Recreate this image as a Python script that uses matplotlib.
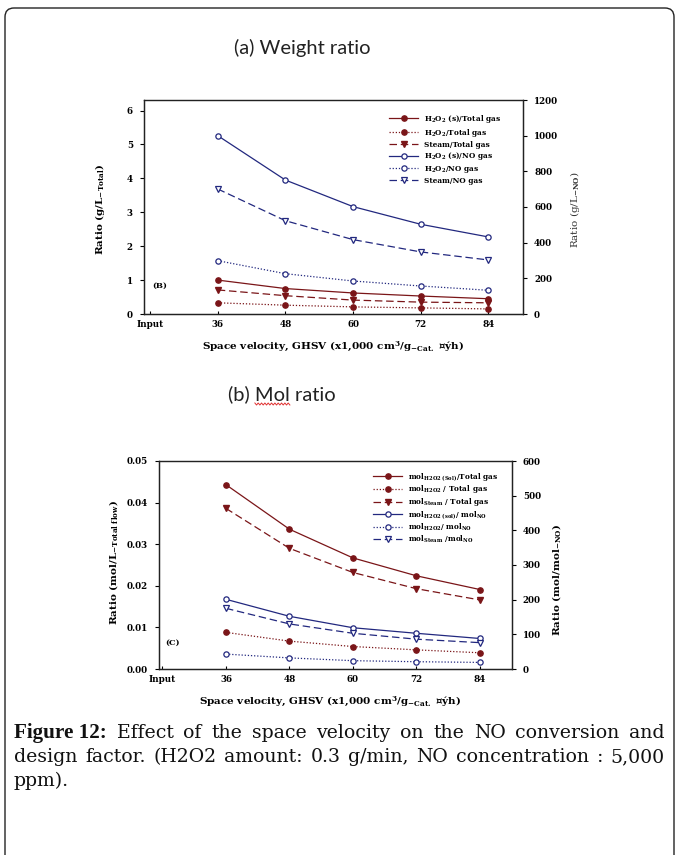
import matplotlib
matplotlib.use("Agg")
import matplotlib.pyplot as plt
from matplotlib.patches import FancyBboxPatch
from matplotlib.lines import Line2D
from matplotlib.transforms import IdentityTransform
import numpy as np

# ---------------- data ----------------
categories = ["Input", "36", "48", "60", "72", "84"]
sv_pos = [1, 2, 3, 4, 5]          # positions of the 36..84 categories

# (a) weight ratio, left axis (g/L_Total)
w_h2o2s_total = [1.00, 0.75, 0.62, 0.53, 0.45]
w_h2o2_total = [0.33, 0.26, 0.21, 0.18, 0.15]
w_steam_total = [0.71, 0.54, 0.41, 0.35, 0.33]
# right axis (g/L_NO)
w_h2o2s_no = [1000, 751, 602, 503, 432]
w_h2o2_no = [299, 226, 185, 157, 133]
w_steam_no = [701, 523, 417, 348, 303]

# (b) mol ratio, left axis (mol/L_Total flow)
m_h2o2s_total = [0.0443, 0.0336, 0.0267, 0.0224, 0.0191]
m_h2o2_total = [0.0088, 0.0067, 0.0054, 0.0046, 0.0039]
m_steam_total = [0.0386, 0.0290, 0.0232, 0.0193, 0.0166]
# right axis (mol/mol_NO)
m_h2o2s_no = [201, 152, 119, 103, 88]
m_h2o2_no = [43, 32, 24, 21, 19]
m_steam_no = [175, 130, 103, 86, 76]

labels_a = [r"H$_2$O$_2$ (s)/Total gas", r"H$_2$O$_2$/Total gas", "Steam/Total gas",
            r"H$_2$O$_2$ (s)/NO gas", r"H$_2$O$_2$/NO gas", "Steam/NO gas"]
labels_b = [r"mol$_{H2O2\ (Sol)}$/Total gas", r"mol$_{H2O2}$ / Total gas", r"mol$_{Steam}$ / Total gas",
            r"mol$_{H2O2\ (sol)}$/ mol$_{NO}$", r"mol$_{H2O2}$/ mol$_{NO}$", r"mol$_{Steam}$ /mol$_{NO}$"]

# ---------------- style ----------------
plt.rcParams["font.family"] = ["DejaVu Serif"]
plt.rcParams["mathtext.fontset"] = "dejavuserif"
plt.rcParams["mathtext.default"] = "bf"

RED = "#7a1518"
BLUE = "#22287f"
W, H = 678, 855
fig = plt.figure(figsize=(W / 100, H / 100), dpi=100)

def px_axes(l, r, t, b):
    return fig.add_axes([l / W, 1 - b / H, (r - l) / W, (b - t) / H])

TICKFS = 6.3
LABFS = 7.5
LW = 0.9
MS = 3.8

def style_axes(ax, ax2):
    for a in (ax, ax2):
        for s in a.spines.values():
            s.set_linewidth(0.9)
            s.set_color("#222222")
    ax.spines["top"].set_color("#555555")
    ax.set_xticks(range(len(categories)))
    ax.set_xticklabels(categories, fontsize=TICKFS, fontweight="bold")
    ax.tick_params(axis="x", length=2, direction="in", pad=4)
    ax.tick_params(axis="y", length=3, direction="out", labelsize=TICKFS, pad=5)
    ax2.tick_params(axis="y", length=3, direction="out", labelsize=TICKFS, pad=5)
    for lab in ax.get_yticklabels() + ax2.get_yticklabels():
        lab.set_fontweight("bold")

def draw(ax, ax2, left_series, right_series):
    (s1, s2, s3) = left_series
    (r1, r2, r3) = right_series
    h = []
    h += ax.plot(sv_pos, s1, color=RED, lw=LW, ls="-", marker="o", ms=MS, mfc=RED, mec=RED)
    h += ax.plot(sv_pos, s2, color=RED, lw=LW, ls=(0, (1, 1.5)), marker="o", ms=MS, mfc=RED, mec=RED)
    h += ax.plot(sv_pos, s3, color=RED, lw=LW, ls=(0, (6, 3)), marker="v", ms=MS + 0.6, mfc=RED, mec=RED)
    h += ax2.plot(sv_pos, r1, color=BLUE, lw=LW, ls="-", marker="o", ms=MS, mfc="white", mec=BLUE, mew=0.9)
    h += ax2.plot(sv_pos, r2, color=BLUE, lw=LW, ls=(0, (1, 1.5)), marker="o", ms=MS, mfc="white", mec=BLUE, mew=0.9)
    h += ax2.plot(sv_pos, r3, color=BLUE, lw=LW, ls=(0, (6, 3)), marker="v", ms=MS + 0.6, mfc="white", mec=BLUE, mew=0.9)
    return h

XLAB = r"Space velocity, GHSV (x1,000 cm$^3$/g$_{-Cat.}$ ¤ýh)"
LEG_KW = dict(loc="upper left", bbox_transform=fig.transFigure, frameon=False, handlelength=4.0,
              handletextpad=0.8, borderpad=0, borderaxespad=0,
              prop={"weight": "bold", "size": 5.3})

# ---------------- (a) ----------------
axA = px_axes(144, 523, 100, 314)
axA2 = axA.twinx()
hA = draw(axA, axA2, (w_h2o2s_total, w_h2o2_total, w_steam_total), (w_h2o2s_no, w_h2o2_no, w_steam_no))
axA.set_xlim(-0.09, 5.51)
axA.set_ylim(0, 6.31)
axA.set_yticks(range(0, 7))
axA2.set_ylim(0, 1200)
axA2.set_yticks(range(0, 1201, 200))
style_axes(axA, axA2)
axA.set_ylabel(r"Ratio (g/L$_{-Total}$)", fontsize=LABFS, fontweight="bold")
axA.yaxis.set_label_coords(-0.098, 0.49)
axA2.set_ylabel(r"Ratio (g/L$_{-NO}$)", fontsize=LABFS, color="#333333")
axA2.yaxis.set_label_coords(1.12, 0.49)
axA.set_xlabel(XLAB, fontsize=LABFS, fontweight="bold")
axA.xaxis.set_label_coords(0.5, -0.118)
axA.text((160 - 144) / 379, (314 - 286) / 214, "(B)", transform=axA.transAxes, fontsize=6.0,
         fontweight="bold", ha="center", va="center")
axA2.legend(hA, labels_a, bbox_to_anchor=(389 / W, 1 - 113 / H), labelspacing=0.24, **LEG_KW)

# ---------------- (b) ----------------
axB = px_axes(159.3, 511.7, 461, 669)
axB2 = axB.twinx()
hB = draw(axB, axB2, (m_h2o2s_total, m_h2o2_total, m_steam_total), (m_h2o2s_no, m_h2o2_no, m_steam_no))
axB.set_xlim(-0.05, 5.5)
axB.set_ylim(0, 0.05)
axB.set_yticks(np.arange(0, 0.051, 0.01))
axB.set_yticklabels(["0.00", "0.01", "0.02", "0.03", "0.04", "0.05"])
axB2.set_ylim(0, 600)
axB2.set_yticks(range(0, 601, 100))
style_axes(axB, axB2)
axB.set_ylabel(r"Ratio (mol/L$_{-Total\ flow}$)", fontsize=LABFS, fontweight="bold")
axB.yaxis.set_label_coords(-0.112, 0.51)
axB2.set_ylabel(r"Ratio (mol/mol$_{-NO}$)", fontsize=LABFS, fontweight="bold")
axB2.yaxis.set_label_coords(1.11, 0.43)
axB.set_xlabel(XLAB, fontsize=LABFS, fontweight="bold")
axB.xaxis.set_label_coords(0.485, -0.12)
axB.text((173 - 159.3) / 352.4, (669 - 643) / 208, "(C)", transform=axB.transAxes, fontsize=6.0,
         fontweight="bold", ha="center", va="center")
axB2.legend(hB, labels_b, bbox_to_anchor=(373 / W, 1 - 471 / H), labelspacing=0.12, **LEG_KW)

renderer = fig.canvas.get_renderer()

# ---------------- titles ----------------
TFONT = ["Lato", "DejaVu Sans"]
fig.text(302 / W, 1 - 48 / H, "(a) Weight ratio", fontsize=14.5, family=TFONT,
         ha="center", va="center", color="#222222")
fig.text(228 / W, 1 - 394 / H, "(b) Mol ratio", fontsize=14.5, family=TFONT,
         ha="left", va="center", color="#222222")
# spell-check squiggle under "Mol"
tmp1 = fig.text(0, 0, "(b) ", fontsize=14.5, family=TFONT)
tmp2 = fig.text(0, 0, "(b) Mol", fontsize=14.5, family=TFONT)
mx0 = 228 + tmp1.get_window_extent(renderer).width
mx1 = 228 + tmp2.get_window_extent(renderer).width
tmp1.remove(); tmp2.remove()
zx = np.linspace(mx0, mx1, 22)
zy = 855 - 404 + np.where(np.arange(22) % 2 == 0, 1.0, -1.0)
fig.add_artist(Line2D(zx, zy, transform=IdentityTransform(), color="#e03030", lw=0.7))

# ---------------- border ----------------
fig.add_artist(FancyBboxPatch((5, -20), 669, 867, boxstyle="round,pad=0,rounding_size=9",
                              transform=IdentityTransform(), fill=False, ec="#222222", lw=1.0))

# ---------------- caption (justified) ----------------
CAPFS = 13.6

def place_words(words, y_px, justify=True, x0=14, x1=665):
    arts = []
    widths = []
    for w, bold in words:
        if bold:
            t = fig.text(0, 1 - y_px / H, w, fontsize=15.2, fontweight="bold",
                         family=["Liberation Serif", "DejaVu Serif"], va="center", ha="left", color="#111111")
        else:
            t = fig.text(0, 1 - y_px / H, w, fontsize=CAPFS, va="center", ha="left", color="#111111")
        arts.append(t)
        widths.append(t.get_window_extent(renderer).width)
    if justify and len(words) > 1:
        gap = (x1 - x0 - sum(widths)) / (len(words) - 1)
    else:
        gap = CAPFS * 100 / 72 * 0.25
    x = x0
    for t, wd in zip(arts, widths):
        t.set_x(x / W)
        x += wd + gap

line1 = [("Figure 12:", True)] + [(w, False) for w in "Effect of the space velocity on the NO conversion and".split()]
line2 = [(w, False) for w in "design factor. (H2O2 amount: 0.3 g/min, NO concentration : 5,000".split()]
line3 = [("ppm).", False)]
place_words(line1, 733)
place_words(line2, 757)
place_words(line3, 781, justify=False)

fig.savefig("out.png", dpi=100)
